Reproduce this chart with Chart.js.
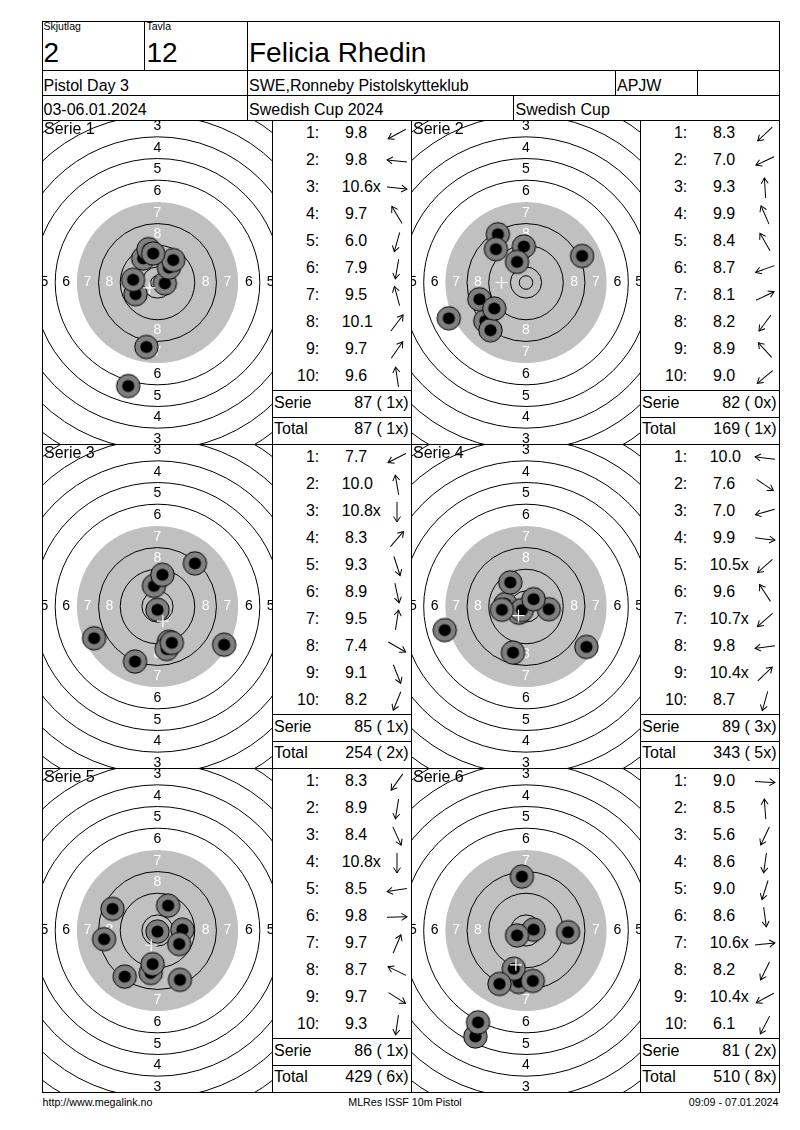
<!DOCTYPE html>
<html>
<head>
<meta charset="utf-8">
<script src="https://cdn.jsdelivr.net/npm/chart.js@4.4.1/dist/chart.umd.min.js"></script>
<style>
  body { margin: 0; background: #fff; font-family: "Liberation Sans", Arial, sans-serif; }
  #page { position: relative; width: 800px; height: 1130px; overflow: hidden; background: #fff; }
  .l { position: absolute; background: #000; }
  .t { position: absolute; white-space: pre; color: #000; }
  canvas { position: absolute; }
  svg { position: absolute; overflow: visible; }
</style>
</head>
<body>
<div id="page"></div>
<script>
// ---------------- DATA ----------------
const headerSquad = "2";
const headerTarget = "12";
const shooterName = "Felicia Rhedin";
const eventName = "Pistol Day 3";
const clubName = "SWE,Ronneby Pistolskytteklub";
const clubCode = "APJW";
const eventDates = "03-06.01.2024";
const competition = "Swedish Cup 2024";
const competitionShort = "Swedish Cup";
const footerLeft = "http://www.megalink.no";
const footerMid = "MLRes ISSF 10m Pistol";
const footerRight = "09:09 - 07.01.2024";

const serieLabels = ["Serie 1", "Serie 2", "Serie 3", "Serie 4", "Serie 5", "Serie 6"];

// shot positions in mm from target centre (x right, y up)
const s1X = [-8.1, -9.0, 2.7, -5.3, -10.8, -4.1, -3.3, 4.2, 5.8, -1.6];
const s1Y = [-4.3, 1.0, -0.3, 8.9, -38.2, -23.8, 12.3, 5.5, 8.3, 10.7];
const s1Scores = ["9.8", "9.8", "10.6x", "9.7", "6.0", "7.9", "9.5", "10.1", "9.7", "9.6"];

const s2X = [-15.0, -28.5, -0.8, -3.3, -10.4, -17.2, 20.7, -13.1, -11.1, -11.7];
const s2Y = [-14.2, -13.2, 13.3, 7.6, 17.8, -6.2, 9.8, -17.6, 12.3, -9.6];
const s2Scores = ["8.3", "7.0", "9.3", "9.9", "8.4", "8.7", "8.1", "8.2", "8.9", "9.0"];

const s3X = [-23.4, -1.3, 0.0, 13.8, 4.2, 3.4, 1.8, 24.6, 5.3, -8.3];
const s3Y = [-11.7, 7.6, -1.2, 15.9, -13.0, -15.7, 11.7, -14.1, -13.4, -20.3];
const s3Scores = ["7.7", "10.0", "10.8x", "8.3", "9.3", "8.9", "9.5", "7.4", "9.1", "8.2"];

const s4X = [-7.6, 22.3, -30.0, 8.4, -2.6, -5.8, -1.5, -8.9, 2.8, -4.8];
const s4Y = [0.9, -14.9, -8.7, -1.0, -2.3, 8.9, -1.3, -1.2, 2.7, -17.0];
const s4Scores = ["10.0", "7.6", "7.0", "9.9", "10.5x", "9.6", "10.7x", "9.8", "10.4x", "8.7"];

const s5X = [-12.1, -2.5, 8.3, 0.0, -19.7, 9.2, 3.9, -16.6, 8.0, -1.8];
const s5Y = [-17.0, -15.7, -18.2, -0.4, -3.2, 0.3, 9.2, 8.0, -5.0, -12.4];
const s5Scores = ["8.3", "8.9", "8.4", "10.8x", "8.5", "9.8", "9.7", "8.7", "9.7", "9.3"];

const s6X = [15.5, -1.5, -18.7, -2.7, -4.5, 2.5, 2.8, -9.8, -3.3, -17.7];
const s6Y = [-0.6, 19.9, -39.1, -19.0, -14.1, -18.6, 0.3, -19.7, -1.8, -33.9];
const s6Scores = ["9.0", "8.5", "5.6", "8.6", "9.0", "8.6", "10.6x", "8.2", "10.4x", "6.1"];

const serieResults = ["87 ( 1x)", "82 ( 0x)", "85 ( 1x)", "89 ( 3x)", "86 ( 1x)", "81 ( 2x)"];
const totalResults = ["87 ( 1x)", "169 ( 1x)", "254 ( 2x)", "343 ( 5x)", "429 ( 6x)", "510 ( 8x)"];
const ringLabels = [3, 4, 5, 6, 7, 8];

// ---------------- GEOMETRY / STYLE ----------------
const PPM = 2.71;          // pixels per mm on the printout
const RING10 = 5.75, RING_STEP = 8, INNER10 = 2.5, BLACK_R = 29.75, SHOT_R = 4.5, HOLE_R = 2.25;
const BLACK_FILL = '#c0c0c0', SHOT_FILL = '#808080';
const FONT = '"Liberation Sans", Arial, sans-serif';

const page = document.getElementById('page');

function hl(x1, x2, y) {
  const d = document.createElement('div'); d.className = 'l';
  d.style.left = x1 + 'px'; d.style.top = y + 'px'; d.style.width = (x2 - x1 + 1) + 'px'; d.style.height = '1px';
  page.appendChild(d);
}
function vl(x, y1, y2) {
  const d = document.createElement('div'); d.className = 'l';
  d.style.left = x + 'px'; d.style.top = y1 + 'px'; d.style.width = '1px'; d.style.height = (y2 - y1 + 1) + 'px';
  page.appendChild(d);
}
function txt(s, x, base, size, align) {
  const d = document.createElement('div'); d.className = 't'; d.textContent = s;
  d.style.fontSize = size + 'px'; d.style.lineHeight = size + 'px';
  d.style.top = (base - 0.8465 * size) + 'px';
  if (align === 'right') d.style.right = (800 - x) + 'px';
  else if (align === 'center') { d.style.left = (x - 200) + 'px'; d.style.width = '400px'; d.style.textAlign = 'center'; }
  else d.style.left = x + 'px';
  page.appendChild(d);
}
function arrow(cx, cy, ang) {
  const ns = 'http://www.w3.org/2000/svg';
  const svg = document.createElementNS(ns, 'svg');
  svg.setAttribute('width', '24'); svg.setAttribute('height', '24');
  svg.setAttribute('viewBox', '-12 -12 24 24');
  svg.style.left = (cx - 12) + 'px'; svg.style.top = (cy - 12) + 'px';
  const g = document.createElementNS(ns, 'g');
  g.setAttribute('transform', 'rotate(' + (-ang * 180 / Math.PI) + ')');
  g.setAttribute('stroke', '#000'); g.setAttribute('stroke-width', '1'); g.setAttribute('fill', 'none');
  const ln = document.createElementNS(ns, 'line');
  ln.setAttribute('x1', '-10'); ln.setAttribute('y1', '0'); ln.setAttribute('x2', '10'); ln.setAttribute('y2', '0');
  const hd = document.createElementNS(ns, 'polyline');
  hd.setAttribute('points', '4.5,-3.5 10,0 4.5,3.5');
  g.appendChild(ln); g.appendChild(hd); svg.appendChild(g); page.appendChild(svg);
}

// ---------------- FRAME ----------------
const rowTops = [120, 444, 768];
const BOTTOM = 1092;
hl(42, 779, 21); hl(42, 779, 70); hl(42, 779, 95); hl(42, 779, 120);
hl(42, 779, 444); hl(42, 779, 768); hl(42, 779, BOTTOM);
vl(42, 21, BOTTOM); vl(779, 21, BOTTOM);
vl(144, 21, 70); vl(247, 21, 120); vl(615, 70, 95); vl(697, 70, 95); vl(513, 95, 120);
vl(272, 120, BOTTOM); vl(411, 120, BOTTOM); vl(640, 120, BOTTOM);
rowTops.forEach(rt => { hl(272, 411, rt + 270); hl(272, 411, rt + 297); hl(640, 779, rt + 270); hl(640, 779, rt + 297); });

// ---------------- HEADER ----------------
txt("Skjutlag", 43.5, 30, 10.5); txt("Tavla", 146.5, 30, 10.5);
txt(headerSquad, 43.5, 62.5, 28); txt(headerTarget, 146.5, 62.5, 28); txt(shooterName, 249, 62.5, 28);
txt(eventName, 43.5, 91.5, 16); txt(clubName, 249, 91.5, 16); txt(clubCode, 617, 91.5, 16);
txt(eventDates, 43.5, 115.5, 16); txt(competition, 249, 115.5, 16); txt(competitionShort, 515.5, 115.5, 16);

// ---------------- FOOTER ----------------
txt(footerLeft, 42.5, 1106, 10.7); txt(footerMid, 405, 1106, 10.7, 'center'); txt(footerRight, 778.5, 1106, 10.7, 'right');

// ---------------- TARGET CHARTS ----------------
function mmPx(chart) {
  const x = chart.scales && chart.scales.x;
  if (!x) return PPM;
  const k = Math.abs(x.getPixelForValue(1) - x.getPixelForValue(0));
  return (isFinite(k) && k > 0.5) ? k : PPM;
}
function shotImage(chart) {
  const k = mmPx(chart);
  if (chart.$shotImg && chart.$shotK === k) return chart.$shotImg;
  const R = SHOT_R * k, r = HOLE_R * k;
  const s = Math.max(4, Math.ceil(2 * R + 2));
  const cv = document.createElement('canvas'); cv.width = s; cv.height = s;
  const g = cv.getContext('2d');
  g.beginPath(); g.arc(s / 2, s / 2, R - 0.5, 0, Math.PI * 2);
  g.fillStyle = SHOT_FILL; g.fill(); g.lineWidth = 1; g.strokeStyle = '#000'; g.stroke();
  g.beginPath(); g.arc(s / 2, s / 2, r, 0, Math.PI * 2); g.fillStyle = '#000'; g.fill();
  chart.$shotImg = cv; chart.$shotK = k;
  return cv;
}

const targetPlugin = {
  id: 'target',
  beforeDatasetsDraw(chart) {
    const { ctx, chartArea: a } = chart;
    const cx = chart.scales.x.getPixelForValue(0), cy = chart.scales.y.getPixelForValue(0), k = mmPx(chart);
    ctx.save();
    ctx.beginPath(); ctx.rect(a.left, a.top, a.right - a.left, a.bottom - a.top); ctx.clip();
    ctx.fillStyle = '#fff'; ctx.fillRect(a.left, a.top, a.right - a.left, a.bottom - a.top);
    ctx.fillStyle = BLACK_FILL; ctx.beginPath(); ctx.arc(cx, cy, BLACK_R * k, 0, Math.PI * 2); ctx.fill();
    ctx.strokeStyle = '#000'; ctx.lineWidth = 1;
    for (let n = 1; n <= 10; n++) {
      if (n === 7) continue;
      ctx.beginPath(); ctx.arc(cx, cy, (RING10 + (10 - n) * RING_STEP) * k, 0, Math.PI * 2); ctx.stroke();
    }
    ctx.beginPath(); ctx.arc(cx, cy, INNER10 * k, 0, Math.PI * 2); ctx.stroke();
    ctx.font = '14px ' + FONT; ctx.textAlign = 'center'; ctx.textBaseline = 'middle';
    ringLabels.forEach(n => {
      const m = (RING10 + (10 - n) * RING_STEP - RING_STEP / 2) * k;
      ctx.fillStyle = n >= 7 ? '#fff' : '#000';
      [[0, -m], [0, m], [-m, 0], [m, 0]].forEach(([dx, dy]) => ctx.fillText(String(n), cx + dx, cy + dy));
    });
    ctx.restore();
  },
  afterDatasetsDraw(chart, args, opts) {
    const ctx = chart.ctx;
    const pts = chart.getDatasetMeta(0).data;
    const mx = pts.reduce((s, p) => s + p.x, 0) / pts.length;
    const my = pts.reduce((s, p) => s + p.y, 0) / pts.length;
    ctx.save();
    ctx.strokeStyle = '#fff'; ctx.lineWidth = 1.2;
    ctx.beginPath(); ctx.moveTo(mx - 6, my); ctx.lineTo(mx + 6, my); ctx.moveTo(mx, my - 6); ctx.lineTo(mx, my + 6); ctx.stroke();
    ctx.fillStyle = '#000'; ctx.font = '16px ' + FONT; ctx.textAlign = 'left'; ctx.textBaseline = 'alphabetic';
    ctx.fillText(opts.label, 1, 13);
    ctx.restore();
  }
};

function makeTarget(label, left, top, w, h, xs, ys) {
  const c = document.createElement('canvas');
  c.width = w; c.height = h;
  c.style.left = left + 'px'; c.style.top = top + 'px'; c.style.width = w + 'px'; c.style.height = h + 'px';
  page.appendChild(c);
  const hx = w / 2 / PPM, hy = h / 2 / PPM;
  new Chart(c, {
    type: 'scatter',
    data: { datasets: [{
      data: xs.map((x, i) => ({ x: x, y: ys[i] })),
      pointStyle: ctx => shotImage(ctx.chart),
      pointRadius: ctx => SHOT_R * mmPx(ctx.chart),
      pointHoverRadius: ctx => SHOT_R * mmPx(ctx.chart),
      borderWidth: 0,
      clip: false
    }] },
    options: {
      responsive: false, animation: false, devicePixelRatio: 1, events: [],
      layout: { padding: 0, autoPadding: false },
      scales: {
        x: { type: 'linear', min: -hx, max: hx, display: false },
        y: { type: 'linear', min: -hy, max: hy, display: false }
      },
      plugins: { legend: { display: false }, tooltip: { enabled: false }, title: { display: false }, target: { label: label } }
    },
    plugins: [targetPlugin]
  });
}

function makeTable(tl, rt, scores, xs, ys, serieRes, totalRes) {
  for (let k = 0; k < 10; k++) {
    const base = rt + 18.7 + 27 * k;
    txt((k + 1) + ':', tl + 47.3, base, 16, 'right');
    const sc = scores[k];
    txt(sc, tl + 69.7 + (parseFloat(sc) < 10 ? 3.3 : 0), base, 16);
    arrow(tl + 124.7, rt + 13.5 + 27 * k, Math.atan2(ys[k], xs[k]));
  }
  txt("Serie", tl + 2, rt + 270 + 18.7, 16); txt(serieRes, tl + 136.5, rt + 270 + 18.7, 16, 'right');
  txt("Total", tl + 2, rt + 297 + 18, 16); txt(totalRes, tl + 136.5, rt + 297 + 18, 16, 'right');
}

const allX = [s1X, s2X, s3X, s4X, s5X, s6X];
const allY = [s1Y, s2Y, s3Y, s4Y, s5Y, s6Y];
const allScores = [s1Scores, s2Scores, s3Scores, s4Scores, s5Scores, s6Scores];
const targetLeft = [43, 412], targetW = [229, 228], tableLeft = [272, 640];

for (let p = 0; p < 6; p++) {
  const col = p % 2, row = Math.floor(p / 2);
  const rt = rowTops[row];
  makeTable(tableLeft[col], rt, allScores[p], allX[p], allY[p], serieResults[p], totalResults[p]);
  makeTarget(serieLabels[p], targetLeft[col], rt + 1, targetW[col], 323, allX[p], allY[p]);
}
</script>
</body>
</html>
